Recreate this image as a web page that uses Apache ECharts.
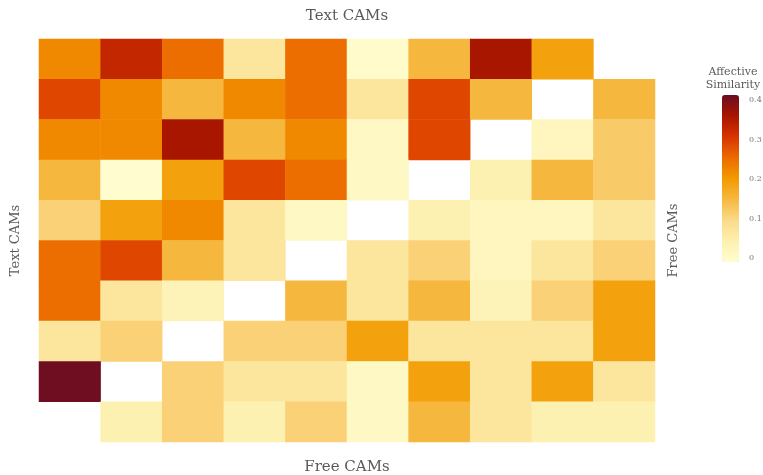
<!DOCTYPE html>
<html>
<head>
<meta charset="utf-8">
<script src="https://cdn.jsdelivr.net/npm/echarts@6/dist/echarts.min.js"></script>
<style>
  html, body { margin: 0; padding: 0; background: #fff; }
  #chart { width: 763px; height: 475px; }
</style>
</head>
<body>
<div id="chart"></div>
<script>
// Category labels for the columns (Free CAMs) and rows (Text CAMs)
const freeCams = ['F1', 'F2', 'F3', 'F4', 'F5', 'F6', 'F7', 'F8', 'F9', 'F10'];
const textCams = ['T1', 'T2', 'T3', 'T4', 'T5', 'T6', 'T7', 'T8', 'T9', 'T10'];

// Affective similarity, one array per text CAM row (null = not compared)
const row1  = [0.22, 0.33, 0.25, 0.07, 0.25, 0.00, 0.15, 0.36, 0.19, null];
const row2  = [0.29, 0.22, 0.15, 0.22, 0.25, 0.07, 0.29, 0.15, null, 0.15];
const row3  = [0.22, 0.22, 0.36, 0.15, 0.22, 0.01, 0.29, null, 0.02, 0.12];
const row4  = [0.15, -0.01, 0.19, 0.29, 0.25, 0.01, null, 0.04, 0.15, 0.12];
const row5  = [0.11, 0.19, 0.22, 0.07, 0.01, null, 0.04, 0.02, 0.02, 0.07];
const row6  = [0.25, 0.29, 0.15, 0.07, null, 0.07, 0.11, 0.02, 0.07, 0.11];
const row7  = [0.25, 0.07, 0.03, null, 0.15, 0.07, 0.15, 0.03, 0.11, 0.19];
const row8  = [0.07, 0.11, null, 0.11, 0.11, 0.19, 0.07, 0.07, 0.07, 0.19];
const row9  = [0.41, null, 0.11, 0.07, 0.07, 0.01, 0.19, 0.07, 0.19, 0.07];
const row10 = [null, 0.04, 0.11, 0.04, 0.11, 0.01, 0.15, 0.07, 0.04, 0.04];

// Colour bar tick labels and range
const barTicks = [0, 0.1, 0.2, 0.3, 0.4];
const scaleMin = -0.01;
const scaleMax = 0.413;

const rows = [row1, row2, row3, row4, row5, row6, row7, row8, row9, row10];
const cells = [];
rows.forEach((r, yi) => {
  r.forEach((v, xi) => {
    if (v !== null) cells.push([xi, yi, v]);
  });
});

const font = 'DejaVu Serif';
const nameStyle = { color: '#5a5a5a', fontFamily: font, fontSize: 15 };
const sideStyle = { color: '#5a5a5a', fontFamily: font, fontSize: 13 };
const hidden = { axisLine: { show: false }, axisTick: { show: false }, axisLabel: { show: false }, splitLine: { show: false } };

const chart = echarts.init(document.getElementById('chart'));
chart.setOption({
  animation: false,
  backgroundColor: '#fff',
  grid: [
    { left: 39, top: 39, width: 616, height: 403, containLabel: false, outerBoundsMode: 'none' },
    { left: 722, top: 95, width: 17, height: 167, containLabel: false, outerBoundsMode: 'none' }
  ],
  xAxis: [
    Object.assign({ type: 'category', data: freeCams, gridIndex: 0, position: 'bottom',
      name: 'Free CAMs', nameLocation: 'middle', nameGap: 18, nameTextStyle: nameStyle }, hidden),
    Object.assign({ type: 'category', data: freeCams, gridIndex: 0, position: 'top',
      name: 'Text CAMs', nameLocation: 'middle', nameGap: 15, nameTextStyle: nameStyle }, hidden),
    { type: 'value', gridIndex: 1, show: false }
  ],
  yAxis: [
    Object.assign({ type: 'category', data: textCams, inverse: true, gridIndex: 0, position: 'left',
      name: 'Text CAMs', nameLocation: 'middle', nameGap: 17, nameTextStyle: sideStyle }, hidden),
    Object.assign({ type: 'category', data: textCams, inverse: true, gridIndex: 0, position: 'right',
      name: 'Free CAMs', nameLocation: 'middle', nameGap: 12, nameTextStyle: sideStyle }, hidden),
    {
      type: 'value', gridIndex: 1, position: 'right', min: scaleMin, max: scaleMax,
      name: 'Affective\nSimilarity', nameLocation: 'end', nameGap: 3,
      nameTextStyle: { color: '#5a5a5a', fontFamily: font, fontSize: 11, align: 'center', lineHeight: 13, padding: [0, 0, 0, 22] },
      axisLine: { show: false }, axisTick: { show: false }, splitLine: { show: false },
      axisLabel: { customValues: barTicks, color: '#777', fontFamily: font, fontSize: 8, margin: 10,
        formatter: v => String(v) }
    }
  ],
  visualMap: {
    type: 'continuous',
    seriesIndex: 0,
    min: scaleMin,
    max: scaleMax,
    calculable: false,
    text: null,
    showLabel: false,
    orient: 'vertical',
    left: 722,
    top: 95,
    itemWidth: 17,
    itemHeight: 167,
    padding: 0,
    inRange: {
      color: ['#fffdd0', '#fdf0b0', '#fbda8a', '#f6b840', '#f39a00', '#ec6a00', '#d83400', '#a81600', '#6b0d22']
    }
  },
  series: [{
    type: 'heatmap',
    xAxisIndex: 0,
    yAxisIndex: 0,
    data: cells,
    itemStyle: { borderWidth: 0 },
    emphasis: { disabled: true }
  }]
});
</script>
</body>
</html>
